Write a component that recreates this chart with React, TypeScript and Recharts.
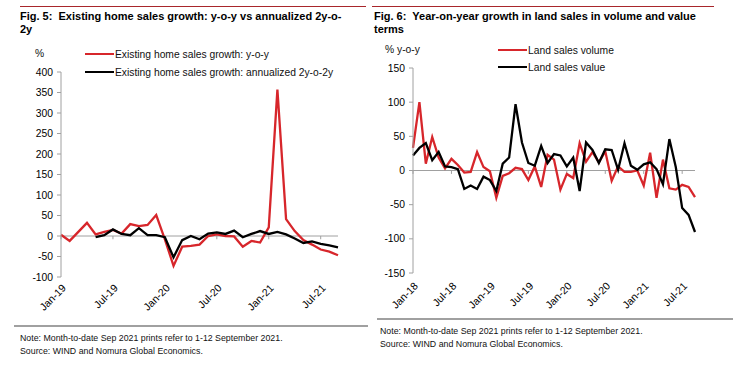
import React from 'react';
import { LineChart, Line, XAxis, YAxis, ReferenceLine } from 'recharts';

const FONT = "'Liberation Sans', Arial, Helvetica, sans-serif";
const RED = '#d7262b';
const BLACK = '#000000';
const AXIS = '#a0a0a0';

// Fig. 5 — existing home sales, Jan-19 .. Sep-21
const homeMonths = [
  'Jan-19', 'Feb-19', 'Mar-19', 'Apr-19', 'May-19', 'Jun-19', 'Jul-19', 'Aug-19', 'Sep-19', 'Oct-19', 'Nov-19', 'Dec-19',
  'Jan-20', 'Feb-20', 'Mar-20', 'Apr-20', 'May-20', 'Jun-20', 'Jul-20', 'Aug-20', 'Sep-20', 'Oct-20', 'Nov-20', 'Dec-20',
  'Jan-21', 'Feb-21', 'Mar-21', 'Apr-21', 'May-21', 'Jun-21', 'Jul-21', 'Aug-21', 'Sep-21',
];
const homeYoy = [
  3, -12, 10, 32, 4, 10, 15, 6, 29, 24, 27, 51,
  -8, -73, -26, -24, -21, 0, 4, 0, -1, -26, -12, -16,
  21, 357, 41, 12, -10, -21, -33, -38, -47,
];
const homeAnn = [
  null, null, null, null, -3, 2, 16, 5, 2, 19, 2, 2,
  -3, -52, -10, 0, -8, 6, 9, 5, 13, -3, 5, 12,
  5, 10, 4, -6, -17, -13, -19, -23, -28,
];
const homeTicks = ['Jan-19', 'Jul-19', 'Jan-20', 'Jul-20', 'Jan-21', 'Jul-21'];
const homeYTicks = [-100, -50, 0, 50, 100, 150, 200, 250, 300, 350, 400];

// Fig. 6 — land sales, Jan-18 .. Sep-21
const landMonths = [
  'Jan-18', 'Feb-18', 'Mar-18', 'Apr-18', 'May-18', 'Jun-18', 'Jul-18', 'Aug-18', 'Sep-18', 'Oct-18', 'Nov-18', 'Dec-18',
  'Jan-19', 'Feb-19', 'Mar-19', 'Apr-19', 'May-19', 'Jun-19', 'Jul-19', 'Aug-19', 'Sep-19', 'Oct-19', 'Nov-19', 'Dec-19',
  'Jan-20', 'Feb-20', 'Mar-20', 'Apr-20', 'May-20', 'Jun-20', 'Jul-20', 'Aug-20', 'Sep-20', 'Oct-20', 'Nov-20', 'Dec-20',
  'Jan-21', 'Feb-21', 'Mar-21', 'Apr-21', 'May-21', 'Jun-21', 'Jul-21', 'Aug-21', 'Sep-21',
];
const landVolume = [
  33, 100, 10, 49, 19, 3, 17, 8, -3, -2, 27, 5,
  -1, -40, -8, -4, 4, 2, -14, 6, -24, 23, 16, -28,
  -5, -11, 40, 13, 27, 12, 28, -15, 6, -2, -2, 0,
  -22, 26, -40, 16, -26, -28, -21, -24, -39,
];
const landValue = [
  22, 33, 40, 15, 27, 6, 5, 2, -27, -22, -27, -9,
  -14, -30, 10, 19, 97, 41, 11, 7, 36, 11, 24, 22,
  6, 19, -30, 41, 30, 11, 31, 30, 1, 40, 7, 1,
  9, 12, 2, -20, 46, 5, -55, -65, -90,
];
const landTicks = ['Jan-18', 'Jul-18', 'Jan-19', 'Jul-19', 'Jan-20', 'Jul-20', 'Jan-21', 'Jul-21'];
const landYTicks = [-150, -100, -50, 0, 50, 100, 150];

const homeData = homeMonths.map((m, i) => ({ m, yoy: homeYoy[i], ann: homeAnn[i] }));
const landData = landMonths.map((m, i) => ({ m, vol: landVolume[i], val: landValue[i] }));

const RotTick = ({ x, y, payload }: any) => (
  <g transform={`translate(${x},${y})`}>
    <text x={0} y={0} dy={8} textAnchor="end" transform="rotate(-45)" fontSize={10.5} fill="#000" fontFamily={FONT}>
      {payload.value}
    </text>
  </g>
);

const LegendRow = ({ color, label, top, left }: { color: string; label: string; top: number; left: number }) => (
  <div style={{ position: 'absolute', top: top - 7, left, height: 14, display: 'flex', alignItems: 'center', whiteSpace: 'nowrap' }}>
    <div style={{ width: 29, height: 2.5, background: color }} />
    <span style={{ fontSize: 10.3, color: '#111', marginLeft: 1 }}>{label}</span>
  </div>
);

const Label = ({ text, top, left }: { text: string; top: number; left: number }) => (
  <div style={{ position: 'absolute', top: top - 7, left, height: 14, lineHeight: '14px', fontSize: 10.3, color: '#111', whiteSpace: 'nowrap' }}>
    {text}
  </div>
);

const Title = ({ lines, left }: { lines: string[]; left: number }) => (
  <div style={{ position: 'absolute', top: 10, left, fontSize: 11, fontWeight: 700, lineHeight: '12.5px', whiteSpace: 'pre', color: '#000' }}>
    {lines.map((l) => (
      <div key={l}>{l}</div>
    ))}
  </div>
);

const Note = ({ top, left }: { top: number; left: number }) => (
  <div style={{ position: 'absolute', top, left, fontSize: 8.8, lineHeight: '13px', color: '#111', whiteSpace: 'nowrap' }}>
    <div>Note: Month-to-date Sep 2021 prints refer to 1-12 September 2021.</div>
    <div>Source: WIND and Nomura Global Economics.</div>
  </div>
);

const Rule = ({ top, left, width, color, h }: { top: number; left: number; width: number; color: string; h: number }) => (
  <div style={{ position: 'absolute', top, left, width, height: h, background: color }} />
);

export default function App() {
  return (
    <div style={{ position: 'absolute', left: 0, top: 0, width: 735, height: 365, background: '#fff', fontFamily: FONT, overflow: 'hidden' }}>
      <Rule top={6} left={20} width={346} color="#a8262b" h={1} />
      <Rule top={6} left={372} width={342} color="#a8262b" h={1} />
      <Title left={20} lines={['Fig. 5:  Existing home sales growth: y-o-y vs annualized 2y-o-', '2y']} />
      <Title left={374} lines={['Fig. 6:  Year-on-year growth in land sales in volume and value', 'terms']} />

      <div style={{ position: 'absolute', left: 0, top: 0 }}>
        <LineChart width={370} height={320} data={homeData} margin={{ top: 72, right: 32, bottom: 13, left: 21 }}>
          <XAxis dataKey="m" ticks={homeTicks} interval={0} axisLine={false} tickLine={false} tickSize={4} tickMargin={2} height={30} tick={<RotTick />} />
          <YAxis
            domain={[-100, 400]}
            ticks={homeYTicks}
            interval={0}
            width={40}
            axisLine={{ stroke: AXIS }}
            tickLine={{ stroke: AXIS }}
            tickSize={4}
            tickMargin={4}
            tick={{ fontSize: 10.3, fill: '#000', fontFamily: FONT }}
          />
          <ReferenceLine y={0} stroke={AXIS} strokeWidth={1} />
          {homeTicks.map((t) => (
            <ReferenceLine key={t} segment={[{ x: t, y: 0 }, { x: t, y: -8 }]} stroke={AXIS} strokeWidth={1} />
          ))}
          <Line type="linear" dataKey="yoy" stroke={RED} strokeWidth={2.3} dot={false} isAnimationActive={false} />
          <Line type="linear" dataKey="ann" stroke={BLACK} strokeWidth={2.3} dot={false} isAnimationActive={false} />
        </LineChart>
      </div>
      <Label text="%" top={54} left={35} />
      <LegendRow color={RED} label="Existing home sales growth: y-o-y" top={54} left={85} />
      <LegendRow color={BLACK} label="Existing home sales growth: annualized 2y-o-2y" top={72} left={85} />

      <div style={{ position: 'absolute', left: 370, top: 0 }}>
        <LineChart width={365} height={320} data={landData} margin={{ top: 68, right: 40, bottom: 17, left: 3 }}>
          <XAxis dataKey="m" ticks={landTicks} interval={0} axisLine={false} tickLine={false} tickSize={4} tickMargin={4} height={30} tick={<RotTick />} />
          <YAxis
            domain={[-150, 150]}
            ticks={landYTicks}
            interval={0}
            width={40}
            axisLine={{ stroke: AXIS }}
            tickLine={{ stroke: AXIS }}
            tickSize={4}
            tickMargin={4}
            tick={{ fontSize: 10.3, fill: '#000', fontFamily: FONT }}
          />
          <ReferenceLine y={0} stroke={AXIS} strokeWidth={1} />
          {landTicks.map((t) => (
            <ReferenceLine key={t} segment={[{ x: t, y: 0 }, { x: t, y: -5 }]} stroke={AXIS} strokeWidth={1} />
          ))}
          <Line type="linear" dataKey="vol" stroke={RED} strokeWidth={2.3} dot={false} isAnimationActive={false} />
          <Line type="linear" dataKey="val" stroke={BLACK} strokeWidth={2.3} dot={false} isAnimationActive={false} />
        </LineChart>
      </div>
      <Label text="% y-o-y" top={50} left={385} />
      <LegendRow color={RED} label="Land sales volume" top={50} left={498} />
      <LegendRow color={BLACK} label="Land sales value" top={67} left={498} />

      <Rule top={325} left={14} width={354} color="#a0a0a0" h={1.5} />
      <Rule top={318} left={377} width={356} color="#a0a0a0" h={1.5} />
      <Note top={332} left={20} />
      <Note top={325} left={380} />
    </div>
  );
}
